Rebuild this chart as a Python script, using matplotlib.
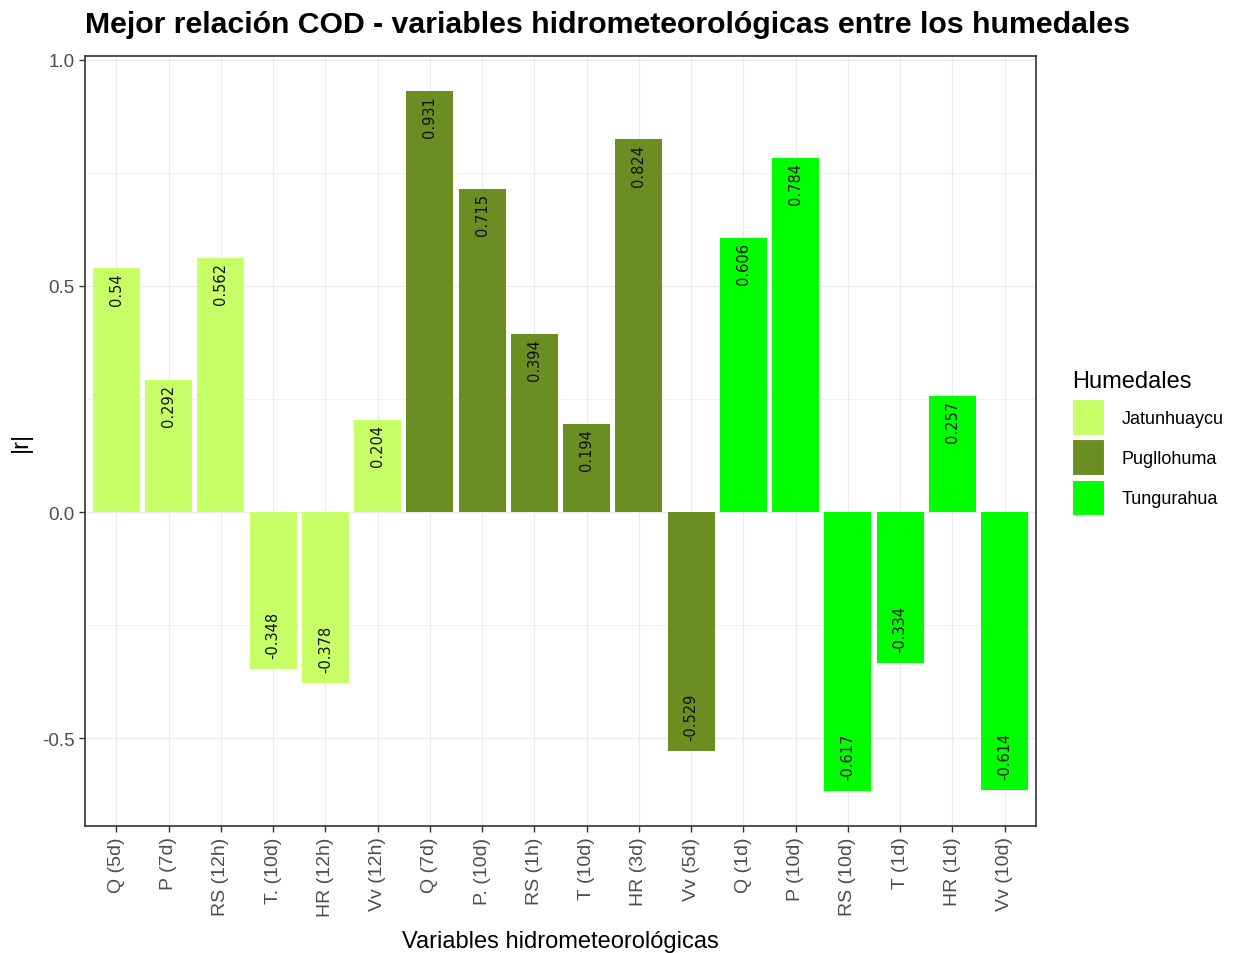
import matplotlib
matplotlib.use("Agg")
import matplotlib.pyplot as plt
from matplotlib.patches import Patch

categories = ["Q (5d)", "P (7d)", "RS (12h)", "T. (10d)", "HR (12h)", "Vv (12h)",
              "Q (7d)", "P. (10d)", "RS (1h)", "T (10d)", "HR (3d)", "Vv (5d)",
              "Q (1d)", "P (10d)", "RS (10d)", "T (1d)", "HR (1d)", "Vv (10d)"]
values = [0.54, 0.292, 0.562, -0.348, -0.378, 0.204,
          0.931, 0.715, 0.394, 0.194, 0.824, -0.529,
          0.606, 0.784, -0.617, -0.334, 0.257, -0.614]
groups = ["Jatunhuaycu"] * 6 + ["Pugllohuma"] * 6 + ["Tungurahua"] * 6
group_names = ["Jatunhuaycu", "Pugllohuma", "Tungurahua"]
group_colors = {"Jatunhuaycu": "#C6FF66", "Pugllohuma": "#6B8E23", "Tungurahua": "#00FF00"}

plt.rcParams['font.family'] = ['Liberation Sans', 'DejaVu Sans']

fig = plt.figure(figsize=(12.49, 9.54), dpi=100)
ax = fig.add_axes([85/1249, 1 - 827/954, (1036-85)/1249, (827-57)/954])

xs = list(range(1, len(categories) + 1))
ax.bar(xs, values, width=0.9, color=[group_colors[g] for g in groups], zorder=2)

for x, v in zip(xs, values):
    if v >= 0:
        ax.annotate(f"{v:g}", (x, v), xytext=(0, -3), textcoords="offset points",
                    rotation=90, ha="center", va="top", fontsize=10.5,
                    family="DejaVu Sans", color="#111111", zorder=3)
    else:
        ax.annotate(f"{v:g}", (x, v), xytext=(0, 8), textcoords="offset points",
                    rotation=90, ha="center", va="bottom", fontsize=10.5,
                    family="DejaVu Sans", color="#111111", zorder=3)

ax.set_xlim(0.4, len(categories) + 0.6)
ax.set_ylim(-0.6944, 1.0085)
ax.set_xticks(xs)
ax.set_xticklabels(categories, rotation=90, fontsize=14, color="#4D4D4D")
ax.set_yticks([-0.5, 0.0, 0.5, 1.0])
ax.set_yticklabels(["-0.5", "0.0", "0.5", "1.0"], fontsize=13.5, color="#4D4D4D")
ax.set_yticks([-0.25, 0.25, 0.75], minor=True)
ax.tick_params(axis="both", which="major", color="#333333", length=4, width=1)
ax.tick_params(axis="y", which="minor", length=0)
ax.grid(True, which="major", color="#EBEBEB", linewidth=1, zorder=0)
ax.grid(True, which="minor", axis="y", color="#EBEBEB", linewidth=0.5, zorder=0)
ax.set_axisbelow(True)
for s in ax.spines.values():
    s.set_color("#333333")
    s.set_linewidth(1.2)

ax.set_xlabel("Variables hidrometeorológicas", fontsize=17, labelpad=10)
ax.set_ylabel("|r|", fontsize=17, labelpad=7)
fig.text(85/1249, 1 - 25/954, "Mejor relación COD - variables hidrometeorológicas entre los humedales",
         fontsize=21.8, fontweight="bold", ha="left", va="center")

handles = [Patch(facecolor=group_colors[g], edgecolor="white", linewidth=1.5, label=g) for g in group_names]
leg = fig.legend(handles=handles, title="Humedales", loc="upper left",
                 bbox_to_anchor=(1072/1249, 1 - 371/954), frameon=False,
                 fontsize=13, title_fontsize=17, handlelength=1.85, handleheight=2.75,
                 handletextpad=0.9, labelspacing=0.2, borderaxespad=0, borderpad=0)
leg._legend_box.align = "left"
leg._legend_box.sep = 5

fig.savefig("out.png", dpi=100, facecolor="white")
